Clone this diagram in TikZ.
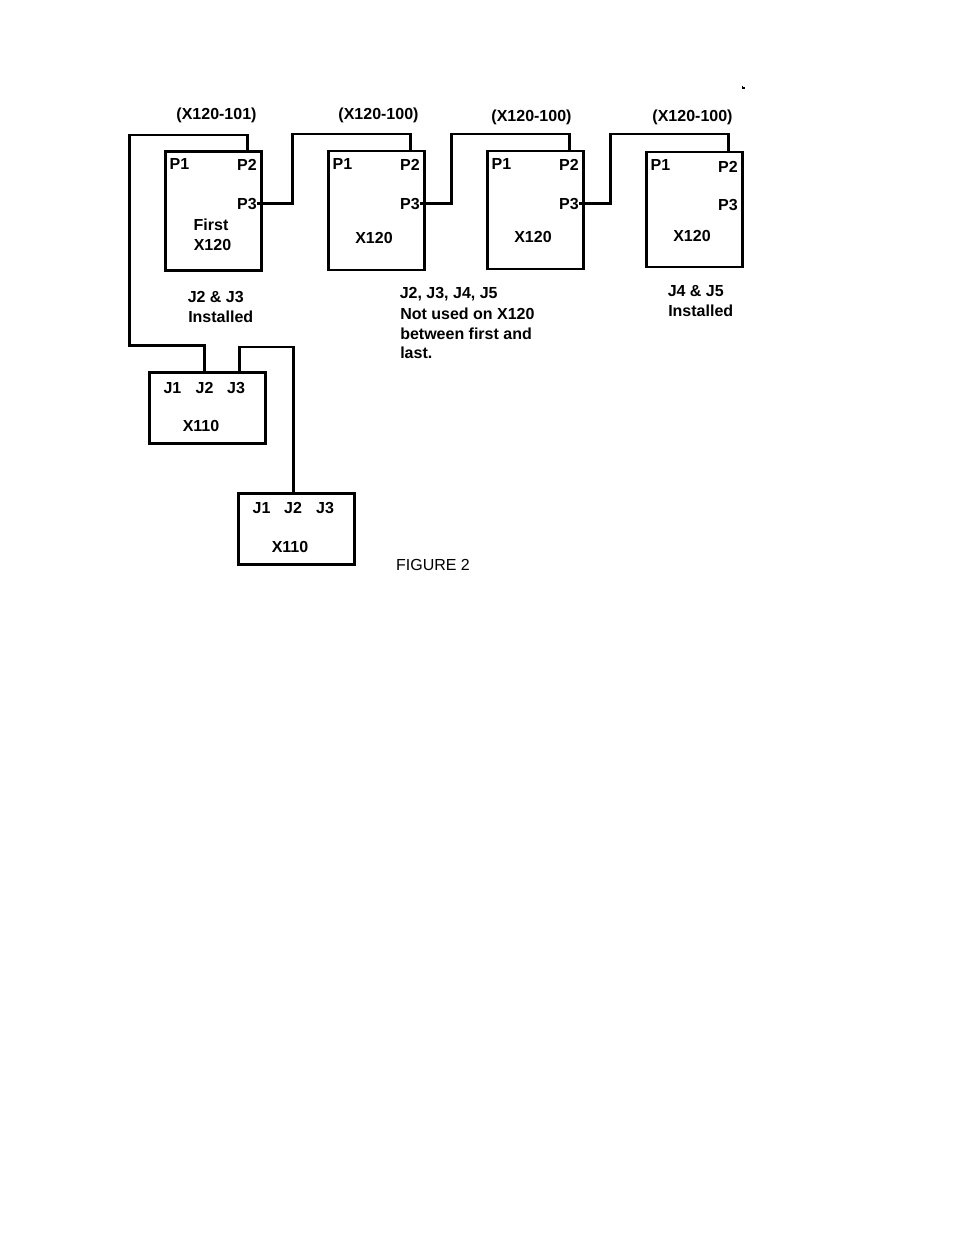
\documentclass[tikz,border=0pt]{standalone}
\usepackage{fontspec}
\setmainfont{Liberation Sans}
\usetikzlibrary{positioning}
\tikzset{
  x=0.75pt,y=-0.75pt,
  ln/.style={line width=1.7pt,black,line join=miter,line cap=rect},
  lbl/.style={font=\bfseries\fontsize{12}{14}\selectfont,inner sep=0pt,align=left,text=black},
  reg/.style={font=\fontsize{12}{14}\selectfont,inner sep=0pt,text=black},
  boxa/.style={draw,line width=1.7pt,inner sep=0pt,outer sep=0pt,anchor=north west,minimum width=72pt,minimum height=89.25pt},
  boxb/.style={draw,line width=1.7pt,inner sep=0pt,outer sep=0pt,anchor=north west,minimum width=87pt,minimum height=53.25pt},
}
\begin{document}
\begin{tikzpicture}
\useasboundingbox[fill=white] (0,0) rectangle (954,1235);
% X120 boxes
\node[boxa] (a) at (165.5,151.5) {};
\node[boxa] (b) at (328.5,151) {};
\node[boxa,minimum height=88.5pt] (c) at (487.5,151) {};
\node[boxa,minimum height=86.5pt] (d) at (646.5,152) {};
% X110 boxes
\node[boxb] (e) at (149.5,372.5) {};
\node[boxb] (f) at (238.5,493.5) {};
% ports
\coordinate (ap2) at (247.5,151.5);
\coordinate (ap3) at (258,203.5);
\coordinate (bp2) at (410.5,151);
\coordinate (bp3) at (421,203.5);
\coordinate (cp2) at (569.5,151);
\coordinate (cp3) at (580,203.5);
\coordinate (dp2) at (728.5,152);
\coordinate (ej2) at (204.5,372.5);
\coordinate (ej3) at (239.5,372.5);
\coordinate (fj2) at (293.5,493.5);
% connectors
\draw[ln] (ap2) |- (129.5,135) |- (204.5,345.5) -- (ej2);
\draw[ln] (ap3) -| (292.5,134) -| (bp2);
\draw[ln] (bp3) -| (451.5,134) -| (cp2);
\draw[ln] (cp3) -| (610.5,134) -| (dp2);
\draw[ln] (ej3) |- (293.5,347) -- (fj2);
% stray mark
\draw[line width=0.8pt] (742.5,85.5) -- (742.5,88) -- (745,88);
% labels
\node[lbl] (t1) at (216.5,115) {(X120-101)};
\node[lbl] (t2) at (378.5,115) {(X120-100)};
\node[lbl] (t3) at (531.5,117.5) {(X120-100)};
\node[lbl] (t4) at (692.5,117) {(X120-100)};
\node[lbl] (a1) at (179.5,163.5) {P1};
\node[lbl] (a2) at (247,165) {P2};
\node[lbl] (a3) at (247,204.5) {P3};
\node[lbl] (a4) at (211,224.5) {First};
\node[lbl] (a5) at (212.5,244.5) {X120};
\node[lbl] (b1) at (342.5,163.5) {P1};
\node[lbl] (b2) at (410,165) {P2};
\node[lbl] (b3) at (410,204.5) {P3};
\node[lbl] (b5) at (374,237.5) {X120};
\node[lbl] (c1) at (501.5,163.5) {P1};
\node[lbl] (c2) at (569,165) {P2};
\node[lbl] (c3) at (569,204.5) {P3};
\node[lbl] (c5) at (533,236.5) {X120};
\node[lbl] (d1) at (660.5,164.5) {P1};
\node[lbl] (d2) at (728,166.5) {P2};
\node[lbl] (d3) at (728,205.5) {P3};
\node[lbl] (d5) at (692,235.5) {X120};
\node[lbl,anchor=west] (n1) at (187.5,297) {J2 \& J3};
\node[lbl,anchor=west] (n2) at (188,317) {Installed};
\node[lbl,anchor=west] (n3) at (399.5,294) {J2, J3, J4, J5};
\node[lbl,anchor=west] (n4) at (400,314) {Not used on X120};
\node[lbl,anchor=west] (n5) at (400,334) {between first and};
\node[lbl,anchor=west] (n6) at (400,353) {last.};
\node[lbl,anchor=west] (n7) at (667.5,291.5) {J4 \& J5};
\node[lbl,anchor=west] (n8) at (668,311) {Installed};
\node[lbl] (e1) at (172.5,388) {J1};
\node[lbl] (e2) at (204.5,387.5) {J2};
\node[lbl] (e3) at (236,387.5) {J3};
\node[lbl] (e4) at (201,426) {X110};
\node[lbl] (f1) at (261.5,508) {J1};
\node[lbl] (f2) at (293,508) {J2};
\node[lbl] (f3) at (325,508) {J3};
\node[lbl] (f4) at (290,546.5) {X110};
\node[reg] (g) at (433,565) {FIGURE 2};
\end{tikzpicture}
\end{document}
